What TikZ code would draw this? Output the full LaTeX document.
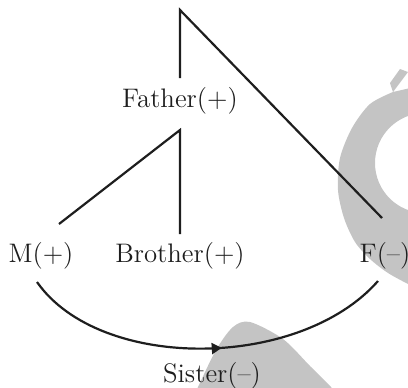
\documentclass[tikz,border=0pt]{standalone}
\usetikzlibrary{decorations.markings,arrows.meta}
\definecolor{wmgray}{RGB}{196,196,196}
\definecolor{ink}{RGB}{30,30,30}
\tikzset{
  lbl/.style={anchor=base, inner sep=0pt, text=ink, font=\fontsize{13.4}{15}\selectfont},
  ln/.style={draw=ink, line width=1.1pt},
  wm/.style={fill=wmgray, draw=none},
}
\begin{document}
\begin{tikzpicture}[x=0.5pt, y=-0.5pt]
\useasboundingbox (0,0) rectangle (408,387);
% watermark
\fill[wm, even odd rule] (408,72) -- (400,69) -- (390,83) -- (393,92)
  plot[smooth] coordinates {(393,92) (370,104) (352,128) (340,158) (338,190) (344,218) (355,242) (370,259) (388,273) (408,284)}
  -- (480,284) -- (480,72) -- cycle
  (425,163) circle[radius=25pt];
\fill[wm] plot[smooth] coordinates {(194,395) (198,387) (216,350) (233,327) (250,322) (283,339) (310,366) (331,387) (335,395)} -- cycle;
% labels
\node[lbl] (father) at (180,107) {Father(+)};
\node[lbl] (m) at (41,262) {M(+)};
\node[lbl] (brother) at (180,262) {Brother(+)};
\node[lbl] (f) at (385,262) {F(\textendash)};
\node[lbl] (sister) at (212,382) {Sister(\textendash)};
% connector ends
\coordinate (top) at (180,10);
\coordinate (fatherTop) at (180,78);
\coordinate (fatherBot) at (180,130);
\coordinate (mEnd) at (59,224);
\coordinate (bEnd) at (180,234);
\coordinate (fEnd) at (382,218);
\coordinate (cStart) at (37,282);
\coordinate (cEnd) at (378,281);
% lines
\draw[ln] (fatherTop) -- (top) -- (fEnd);
\draw[ln] (mEnd) -- (fatherBot) -- (bEnd);
\draw[ln, decoration={markings, mark=at position 0.54 with {\arrow[ink]{Triangle[length=5pt,width=5.5pt]}}}, postaction={decorate}]
  (cStart) .. controls (100,372) and (300,370) .. (cEnd);
\end{tikzpicture}
\end{document}
